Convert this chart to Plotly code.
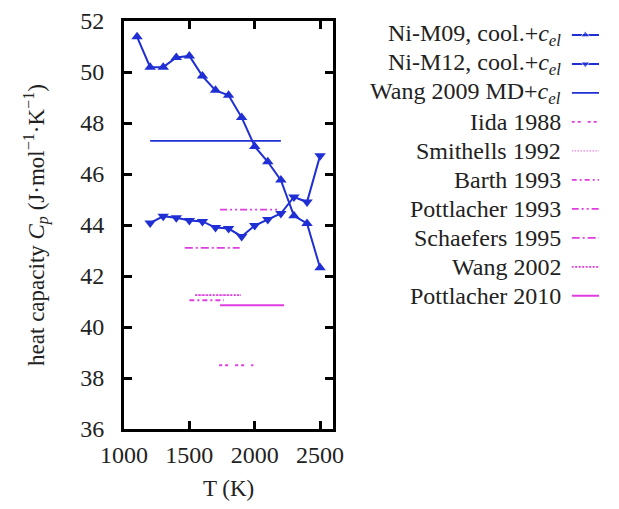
import plotly.graph_objects as go

# ---- data ----
T_m09 = [1100, 1200, 1300, 1400, 1500, 1600, 1700, 1800, 1900, 2000, 2100, 2200, 2300, 2400, 2500]
cp_m09 = [51.38, 50.19, 50.19, 50.57, 50.63, 49.84, 49.28, 49.09, 48.22, 47.08, 46.48, 45.76, 44.36, 44.06, 42.32]

T_m12 = [1200, 1300, 1400, 1500, 1600, 1700, 1800, 1900, 2000, 2100, 2200, 2300, 2400, 2500]
cp_m12 = [44.08, 44.34, 44.28, 44.18, 44.14, 43.90, 43.86, 43.55, 43.98, 44.22, 44.45, 45.10, 44.90, 46.72]

T_wang2009 = [1200, 2200]
cp_wang2009 = [47.3, 47.3]

T_iida = [1728, 1990]
cp_iida = [38.5, 38.5]

T_smithells = [1545, 1895]
cp_smithells = [41.25, 41.25]

T_barth = [1500, 1765]
cp_barth = [41.05, 41.05]

T_pott1993 = [1735, 2185]
cp_pott1993 = [44.6, 44.6]

T_schaefers = [1465, 1885]
cp_schaefers = [43.1, 43.1]

T_wang2002 = [1545, 1895]
cp_wang2002 = [41.25, 41.25]

T_pott2010 = [1735, 2225]
cp_pott2010 = [40.85, 40.85]

x_ticks = [1000, 1500, 2000, 2500]
y_ticks = [36, 38, 40, 42, 44, 46, 48, 50, 52]

BLUE = "#1f2fd4"
MAG = "#e03ce0"
FONT = "Liberation Serif, Times New Roman, DejaVu Serif, serif"
TXT = "#222"

legend_labels = [
    "Ni-M09, cool.+<i>c<sub>el</sub></i>",
    "Ni-M12, cool.+<i>c<sub>el</sub></i>",
    "Wang 2009 MD+<i>c<sub>el</sub></i>",
    "Iida 1988",
    "Smithells 1992",
    "Barth 1993",
    "Pottlacher 1993",
    "Schaefers 1995",
    "Wang 2002",
    "Pottlacher 2010",
]

series = [
    (T_m09, cp_m09, BLUE, "solid", "triangle-up", 2),
    (T_m12, cp_m12, BLUE, "solid", "triangle-down", 2),
    (T_wang2009, cp_wang2009, BLUE, "solid", None, 1.8),
    (T_iida, cp_iida, MAG, "3px,3px,3px,7px", None, 1.8),
    (T_smithells, cp_smithells, MAG, "1px,2px", None, 1.2),
    (T_barth, cp_barth, MAG, "5px,3px,2px,3px", None, 1.8),
    (T_pott1993, cp_pott1993, MAG, "7px,3px,2px,3px,2px,3px", None, 1.8),
    (T_schaefers, cp_schaefers, MAG, "8px,3px,2px,3px", None, 1.8),
    (T_wang2002, cp_wang2002, MAG, "2px,1.5px", None, 1.8),
    (T_pott2010, cp_pott2010, MAG, "solid", None, 2),
]

fig = go.Figure()

for (xs, ys, col, dash, sym, lw) in series:
    fig.add_trace(go.Scatter(
        x=xs, y=ys, mode="lines+markers" if sym else "lines",
        line=dict(color=col, dash=dash, width=lw),
        marker=dict(symbol=sym, size=10, color=col) if sym else None,
        showlegend=False, xaxis="x", yaxis="y",
    ))

# page body has an 8px margin: figure pixel = screen pixel - 8
OFF = 8
W, H = 619 - 2 * OFF, 509 - 2 * OFF
PLOT_L, PLOT_R, PLOT_T, PLOT_B = 124 - OFF, 338 - OFF, 21 - OFF, 432 - OFF
ml, mr, mt, mb = PLOT_L, 0, PLOT_T, H - PLOT_B
pw = W - ml - mr
ph = H - mt - mb

# legend geometry (figure pixels)
LEG_X0, LEG_X1 = 582 - OFF, 610 - OFF
LEG_TEXT_END = 573 - OFF
ROW0, ROW_STEP = 35 - OFF, 29.2
y2_top = (mt - ROW0) / ROW_STEP
y2_bot = (mt + ph - ROW0) / ROW_STEP

annotations = []
for i, (lab, s) in enumerate(zip(legend_labels, series)):
    _, _, col, dash, sym, lw = s
    fig.add_trace(go.Scatter(
        x=[0, 0.5, 1], y=[i, i, i],
        mode="lines+markers" if sym else "lines",
        line=dict(color=col, dash=dash, width=lw),
        marker=dict(symbol=sym, size=[0, 8, 0], color=col) if sym else None,
        showlegend=False, xaxis="x2", yaxis="y2", hoverinfo="skip",
    ))
    annotations.append(dict(
        x=(LEG_TEXT_END - ml) / pw, y=(y2_bot - i) / (y2_bot - y2_top),
        xref="paper", yref="paper", text=lab, showarrow=False,
        xanchor="right", yanchor="middle",
        font=dict(family=FONT, size=24, color=TXT),
    ))

fig.update_layout(
    width=W, height=H,
    margin=dict(l=ml, r=mr, t=mt, b=mb),
    paper_bgcolor="white", plot_bgcolor="white",
    font=dict(family=FONT, size=24, color=TXT),
    xaxis=dict(
        domain=[0, (PLOT_R - ml) / pw], range=[1000, 2600],
        tickvals=x_ticks, ticks="inside", ticklen=8, tickwidth=3, tickcolor="black",
        showline=True, linewidth=3, linecolor="black", mirror="ticks",
        showgrid=False, zeroline=False, ticklabelstandoff=2,
        tickfont=dict(family=FONT, size=24, color=TXT),
        title=dict(text="T (K)", standoff=17, font=dict(family=FONT, size=23, color=TXT)),
    ),
    yaxis=dict(
        domain=[0, 1], range=[36, 52],
        tickvals=y_ticks, ticks="inside", ticklen=8, tickwidth=3, tickcolor="black",
        showline=True, linewidth=3, linecolor="black", mirror="ticks",
        showgrid=False, zeroline=False, ticklabelstandoff=12,
        tickfont=dict(family=FONT, size=24, color=TXT),
        title=dict(text="heat capacity <i>C<sub>p</sub></i> (J·mol<sup>−1</sup>·K<sup>−1</sup>)",
                   standoff=30, font=dict(family=FONT, size=23, color=TXT)),
    ),
    xaxis2=dict(domain=[(LEG_X0 - ml) / pw, min(1.0, (LEG_X1 - ml) / pw)], range=[0, 1],
                visible=False, anchor="y2"),
    yaxis2=dict(domain=[0, 1], range=[y2_bot, y2_top], visible=False, anchor="x2"),
    annotations=annotations,
)

fig.write_html("out.html")
